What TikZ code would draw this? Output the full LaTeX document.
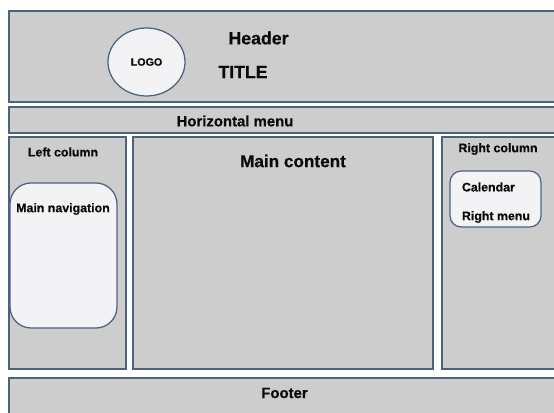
\documentclass[tikz,border=0pt]{standalone}
\usepackage{fontspec}
\setmainfont{Liberation Sans}[BoldFeatures={FakeBold=0.6}]
\usepackage{xcolor}
\usepackage{tikz}
\usetikzlibrary{shapes.geometric, positioning}
\definecolor{myframe}{RGB}{78,98,128}
\definecolor{mygrey}{RGB}{205,205,205}
\definecolor{mylight}{RGB}{243,243,245}
\definecolor{mytext}{RGB}{10,10,10}
\tikzset{
  panel/.style={draw=myframe, fill=mygrey, line width=0.9pt},
  inbox/.style={draw=myframe, fill=mylight, line width=0.9pt},
  bigtext/.style={color=mytext, font=\fontsize{12.6}{14}\selectfont\bfseries},
  midtext/.style={color=mytext, font=\fontsize{10.6}{12}\selectfont\bfseries},
  smalltext/.style={color=mytext, font=\fontsize{8.8}{10}\selectfont\bfseries}
}

\begin{document}
\begin{tikzpicture}[x=0.025cm, y=-0.025cm]
  \clip (0,0) rectangle (554,413);
  \fill[white] (0,0) rectangle (554,413);

  % Header
  \draw[panel] (9,11) rectangle (562,102);
  \node[ellipse, inbox, minimum width=77*0.025cm, minimum height=68*0.025cm,
    font=\fontsize{7.6}{9}\selectfont\bfseries, text=mytext] (logo) at (146.5,62) {LOGO};
  \node[bigtext] (header) at (258.5,38) {Header};
  \node[bigtext] (title) at (243,72) {TITLE};

  % Horizontal menu
  \draw[panel] (9,107) rectangle (562,133);
  \node[midtext] (hmenu) at (235,121) {Horizontal menu};

  % Left column
  \draw[panel] (9,137) rectangle (126,369);
  \node[smalltext] (leftcol) at (63,152) {Left column};
  \draw[inbox, rounded corners=15] (10,183) rectangle (117,328);
  \node[smalltext] (mainnav) at (63,209) {Main navigation};

  % Main content
  \draw[panel] (133,137) rectangle (433,369);
  \node[bigtext, font=\fontsize{12.2}{14}\selectfont\bfseries] (content) at (293,161) {Main content};

  % Right column
  \draw[panel] (442,137) rectangle (562,369);
  \node[smalltext] (rightcol) at (498,149) {Right column};
  \draw[inbox, rounded corners=8] (450,171) rectangle (541,227);
  \node[smalltext, anchor=west] (calendar) at (457,187) {Calendar};
  \node[smalltext, anchor=west] (rightmenu) at (457,217) {Right menu};

  % Footer
  \draw[panel] (9,378) rectangle (562,420);
  \node[midtext] (footer) at (284.5,393) {Footer};
\end{tikzpicture}
\end{document}
